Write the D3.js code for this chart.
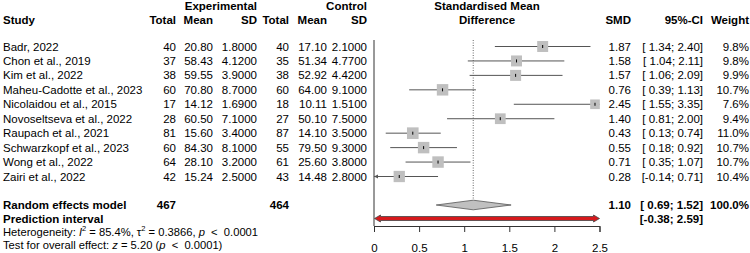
<!DOCTYPE html>
<html><head><meta charset="utf-8">
<script src="https://cdn.jsdelivr.net/npm/d3@7"></script>
<style>
body{margin:0;background:#fff}
svg text{font-family:"Liberation Sans",Arial,Helvetica,sans-serif;white-space:pre}
</style></head><body>
<svg id="c" width="750" height="253"></svg>
<script>
const studies=["Badr, 2022","Chon et al., 2019","Kim et al., 2022","Maheu-Cadotte et al., 2023","Nicolaidou et al., 2015","Novoseltseva et al., 2022","Raupach et al., 2021","Schwarzkopf et al., 2023","Wong et al., 2022","Zairi et al., 2022"];
const expTotal=[40,37,38,60,17,28,81,60,64,42];
const expMean=["20.80","58.43","59.55","70.80","14.12","60.50","15.60","84.30","28.10","15.24"];
const expSD=["1.8000","4.1200","3.9000","8.7000","1.6900","7.1000","3.4000","8.1000","3.2000","2.5000"];
const ctlTotal=[40,35,38,60,18,27,87,55,61,43];
const ctlMean=["17.10","51.34","52.92","64.00","10.11","50.10","14.10","79.50","25.60","14.48"];
const ctlSD=["2.1000","4.7700","4.4200","9.1000","1.5100","7.5000","3.5000","9.3000","3.8000","2.8000"];
const smd=[1.87,1.58,1.57,0.76,2.45,1.40,0.43,0.55,0.71,0.28];
const ciLow=[1.34,1.04,1.06,0.39,1.55,0.81,0.13,0.18,0.35,-0.14];
const ciHigh=[2.40,2.11,2.09,1.13,3.35,2.00,0.74,0.92,1.07,0.71];
const weight=[9.8,9.8,9.9,10.7,7.6,9.4,11.0,10.7,10.7,10.4];
const pooled={est:1.10,lo:0.69,hi:1.52,totalE:467,totalC:464};
const pred={lo:-0.38,hi:2.59};
const ticks=[0,0.5,1,1.5,2,2.5];

const svg=d3.select("#c");
const x=d3.scaleLinear().domain([0,2.5]).range([374,599.5]);
const y=d3.scaleLinear().domain([0,9]).range([46.5,176.5]);
const yRE=205, yPI=218.5, axisY=226;
const fs=11.5;
const f2=v=>(v<0?"":" ")+v.toFixed(2);
const g=svg.append("g");

function txt(xp,yp,s,anchor,bold,size){
  return g.append("text").attr("x",xp).attr("y",yp).attr("text-anchor",anchor||"start")
   .attr("font-size",size||fs).attr("font-weight",bold?"bold":"normal").attr("fill","#000").text(s);
}
// headers
txt(257,9.8,"Experimental","end",true);
txt(367,9.8,"Control","end",true);
txt(487,9.8,"Standardised Mean","middle",true);
txt(3,23.8,"Study","start",true);
txt(176,23.8,"Total","end",true);
txt(213,23.8,"Mean","end",true);
txt(257,23.8,"SD","end",true);
txt(289,23.8,"Total","end",true);
txt(327,23.8,"Mean","end",true);
txt(367,23.8,"SD","end",true);
txt(487,23.8,"Difference","middle",true);
txt(631,23.8,"SMD","end",true);
txt(703,23.8,"95%-CI","end",true);
txt(749,23.8,"Weight","end",true);

// study rows
studies.forEach((s,i)=>{
  const yy=y(i)+4;
  txt(3,yy,s);
  txt(176,yy,String(expTotal[i]),"end");
  txt(213,yy,expMean[i],"end");
  txt(257,yy,expSD[i],"end");
  txt(289,yy,String(ctlTotal[i]),"end");
  txt(327,yy,ctlMean[i],"end");
  txt(367,yy,ctlSD[i],"end");
  txt(631,yy,smd[i].toFixed(2),"end");
  txt(703,yy,"["+f2(ciLow[i])+";"+f2(ciHigh[i])+"]","end");
  txt(749,yy,weight[i].toFixed(1)+"%","end");
});
txt(3,yRE+4,"Random effects model","start",true);
txt(176,yRE+4,String(pooled.totalE),"end",true);
txt(289,yRE+4,String(pooled.totalC),"end",true);
txt(631,yRE+4,pooled.est.toFixed(2),"end",true);
txt(703,yRE+4,"["+f2(pooled.lo)+";"+f2(pooled.hi)+"]","end",true);
txt(749,yRE+4,"100.0%","end",true);
txt(3,yPI+4,"Prediction interval","start",true);
txt(703,yPI+4,"["+f2(pred.lo)+";"+f2(pred.hi)+"]","end",true);

// heterogeneity
const hs=11.2;
const h=g.append("text").attr("x",3).attr("y",235.8).attr("font-size",hs);
h.append("tspan").text("Heterogeneity: ");
h.append("tspan").attr("font-style","italic").text("I");
h.append("tspan").attr("font-size",7.5).attr("dy",-4.5).text("2");
h.append("tspan").attr("dy",4.5).text(" = 85.4%, τ");
h.append("tspan").attr("font-size",7.5).attr("dy",-4.5).text("2");
h.append("tspan").attr("dy",4.5).text(" = 0.3866, ");
h.append("tspan").attr("font-style","italic").text("p");
h.append("tspan").text("  <  0.0001");
const t=g.append("text").attr("x",3).attr("y",249).attr("font-size",hs);
t.append("tspan").text("Test for overall effect: ");
t.append("tspan").attr("font-style","italic").text("z");
t.append("tspan").text(" = 5.20 (");
t.append("tspan").attr("font-style","italic").text("p");
t.append("tspan").text("  <  0.0001)");

// plot structure
g.append("line").attr("x1",x(0)).attr("x2",x(0)).attr("y1",40).attr("y2",axisY).attr("stroke","#333").attr("stroke-width",1);
g.append("line").attr("x1",x(pooled.est)).attr("x2",x(pooled.est)).attr("y1",40).attr("y2",yRE-5)
  .attr("stroke","#666").attr("stroke-width",1).attr("stroke-dasharray","1,1.5");

// axis
const ax=g.append("g").attr("transform",`translate(0,${axisY})`)
  .call(d3.axisBottom(x).tickValues(ticks).tickSize(6).tickFormat(d3.format("")));
ax.select(".domain").attr("stroke","#333");
ax.selectAll(".tick line").attr("stroke","#333");
ax.selectAll(".tick text").attr("font-size",fs).attr("font-family","Liberation Sans, Arial, sans-serif").attr("dy",0).attr("y",26).attr("fill","#000");

// CIs & squares
const [d0,d1]=x.domain();
studies.forEach((s,i)=>{
  const yy=y(i);
  const lo=Math.max(ciLow[i],d0), hi=Math.min(ciHigh[i],d1);
  g.append("line").attr("x1",x(lo)).attr("x2",x(hi)).attr("y1",yy).attr("y2",yy).attr("stroke","#555").attr("stroke-width",1);
  if(ciLow[i]<d0){
    g.append("path").attr("d",`M${x(d0)},${yy} l4,-2 l0,4 Z`).attr("fill","#555");
  }
  if(ciHigh[i]>d1){
    g.append("path").attr("d",`M${x(d1)},${yy} l-4,-2 l0,4 Z`).attr("fill","#555");
  }
  const sz=3.5*Math.sqrt(weight[i]);
  const cx=x(Math.min(smd[i],d1));
  g.append("rect").attr("x",cx-sz/2).attr("y",yy-sz/2).attr("width",sz).attr("height",sz).attr("fill","#bfbfbf");
  g.append("line").attr("x1",cx).attr("x2",cx).attr("y1",yy-1.5).attr("y2",yy+1.5).attr("stroke","#000").attr("stroke-width",1);
});

// diamond
g.append("path").attr("d",`M${x(pooled.lo)},${yRE} L${x(pooled.est)},${yRE-4.8} L${x(pooled.hi)},${yRE} L${x(pooled.est)},${yRE+4.8} Z`)
  .attr("fill","#c0c0c0").attr("stroke","#555").attr("stroke-width",0.8);

// prediction interval
const pl=x(Math.max(pred.lo,d0))+0.5, pr=x(Math.min(pred.hi,d1));
g.append("path").attr("d",`M${pl},${yPI} L${pl+6},${yPI-3.5} L${pl+6},${yPI-2} L${pr-6},${yPI-2} L${pr-6},${yPI-3.5} L${pr},${yPI} L${pr-6},${yPI+3.5} L${pr-6},${yPI+2} L${pl+6},${yPI+2} L${pl+6},${yPI+3.5} Z`)
  .attr("fill","#d7191c").attr("stroke","#444").attr("stroke-width",0.8);
</script></body></html>
